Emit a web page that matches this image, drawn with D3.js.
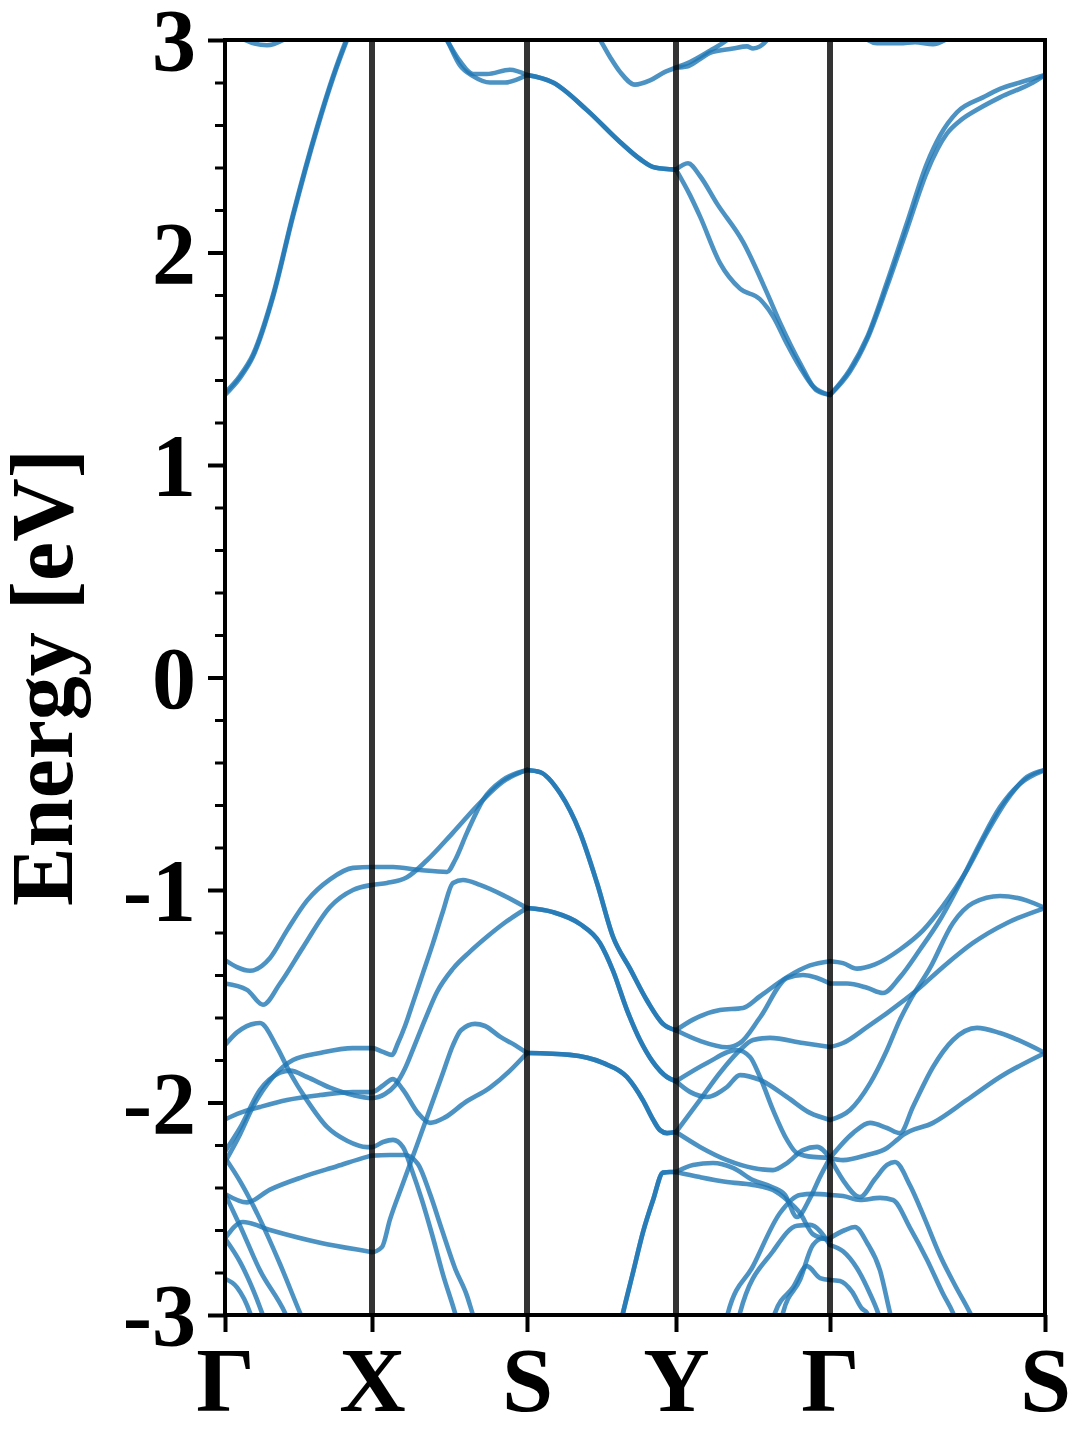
<!DOCTYPE html>
<html><head><meta charset="utf-8">
<script src="https://cdn.jsdelivr.net/npm/d3@7"></script>
<style>
html,body{margin:0;padding:0;background:#fff;}
svg text{font-family:"Liberation Serif","Times New Roman",Times,serif;font-weight:bold;fill:#000;}
</style></head>
<body><svg id="c" width="1080" height="1440"></svg>
<script>
// ---- axis data ----
const kPos = [0, 1.47, 3.02, 4.51, 6.05, 8.20];
const kLabels = ["Γ", "X", "S", "Y", "Γ", "S"];
const yTicks = [-3, -2, -1, 0, 1, 2, 3];
const yTickLabels = ["-3", "-2", "-1", "0", "1", "2", "3"];
const yMinor = [-2.8,-2.6,-2.4,-2.2,-1.8,-1.6,-1.4,-1.2,-0.8,-0.6,-0.4,-0.2,0.2,0.4,0.6,0.8,1.2,1.4,1.6,1.8,2.2,2.4,2.6,2.8];
const yLabel = "Energy [eV]";

// ---- bands: [k, E(eV)] ----
// conduction
const cb1a = [[0,1.33],[0.15,1.41],[0.28,1.51],[0.48,1.79],[0.68,2.17],[0.92,2.58],[1.08,2.82],[1.22,3.0],[1.35,3.15],[1.47,3.25]];
const cb1b = [[0,1.34],[0.15,1.42],[0.28,1.52],[0.48,1.80],[0.68,2.18],[0.92,2.59],[1.08,2.83],[1.22,3.01],[1.35,3.16],[1.47,3.26]];
const cTopGX = [[0.05,3.06],[0.20,3.0],[0.42,2.975],[0.58,3.0],[0.75,3.06]];
const c3a = [[2.05,3.15],[2.22,3.0],[2.35,2.88],[2.48,2.83],[2.65,2.80],[2.80,2.80],[3.02,2.835]];
const c3b = [[2.05,3.15],[2.22,3.0],[2.35,2.90],[2.48,2.84],[2.62,2.84],[2.85,2.86],[3.02,2.835]];
const c2 = [[3.02,2.835],[3.28,2.80],[3.62,2.67],[3.95,2.52],[4.15,2.44],[4.30,2.40],[4.51,2.39]];
const c4 = [[3.65,3.06],[3.75,3.0],[3.85,2.92],[3.95,2.85],[4.10,2.79],[4.25,2.81],[4.40,2.85],[4.51,2.87],[4.62,2.89],[4.85,2.95],[5.02,3.0],[5.15,3.06]];
const c5 = [[4.51,2.87],[4.62,2.875],[4.75,2.91],[4.85,2.94],[5.08,2.96],[5.22,2.97],[5.28,2.96],[5.35,2.97],[5.42,3.0],[5.50,3.06]];
const cA = [[4.51,2.39],[4.63,2.42],[4.75,2.36],[4.92,2.23],[5.18,2.05],[5.42,1.81],[5.55,1.67],[5.75,1.48],[5.92,1.35],[6.05,1.33]];
const cB = [[4.51,2.39],[4.65,2.27],[4.75,2.17],[4.95,1.95],[5.15,1.83],[5.35,1.78],[5.48,1.70],[5.62,1.57],[5.75,1.46],[5.88,1.37],[6.05,1.33]];
const cC = [[6.05,1.33],[6.25,1.45],[6.42,1.60],[6.62,1.86],[6.82,2.14],[7.02,2.42],[7.15,2.55],[7.32,2.66],[7.58,2.73],[7.75,2.77],[7.95,2.80],[8.20,2.835]];
const cD = [[6.05,1.33],[6.25,1.44],[6.42,1.59],[6.62,1.84],[6.82,2.11],[7.02,2.38],[7.22,2.56],[7.35,2.62],[7.55,2.68],[7.75,2.73],[8.08,2.80],[8.20,2.835]];
const cTopGS = [[6.35,3.03],[6.52,2.985],[6.75,2.985],[6.90,2.99],[7.08,2.98],[7.20,3.0],[7.32,3.04]];
// valence
const vb1 = [[0,-1.33],[0.25,-1.38],[0.45,-1.32],[0.62,-1.19],[0.82,-1.05],[1.05,-0.95],[1.28,-0.896],[1.47,-0.892],[1.68,-0.892],[1.95,-0.906],[2.22,-0.915],[2.30,-0.86],[2.42,-0.73],[2.58,-0.576],[2.78,-0.482],[3.02,-0.435]];
const vb2 = [[0,-1.44],[0.22,-1.47],[0.38,-1.54],[0.55,-1.44],[0.78,-1.27],[1.05,-1.08],[1.28,-1.00],[1.47,-0.976],[1.62,-0.967],[1.82,-0.94],[2.02,-0.86],[2.28,-0.73],[2.55,-0.59],[2.78,-0.49],[3.02,-0.435]];
const vA = [[0,-1.73],[0.12,-1.67],[0.35,-1.626],[0.52,-1.74],[0.65,-1.86],[0.82,-1.99],[1.02,-2.115],[1.22,-2.18],[1.42,-2.21],[1.47,-2.21],[1.58,-2.186],[1.68,-2.176],[1.78,-2.21],[1.87,-2.32],[1.97,-2.46],[2.07,-2.62],[2.18,-2.81],[2.30,-2.99],[2.42,-3.2]];
const vU = [[0,-2.43],[0.22,-2.47],[0.45,-2.41],[0.78,-2.35],[1.12,-2.30],[1.42,-2.256],[1.47,-2.25],[1.65,-2.247],[1.80,-2.247],[1.93,-2.29],[2.05,-2.43],[2.17,-2.60],[2.30,-2.78],[2.42,-2.91],[2.48,-3.0],[2.60,-3.15]];
const vB = [[0,-2.08],[0.15,-2.049],[0.35,-2.021],[0.62,-1.988],[0.95,-1.965],[1.28,-1.951],[1.47,-1.951],[1.58,-1.92],[1.68,-1.89],[1.78,-1.94],[1.93,-2.05],[2.05,-2.096],[2.20,-2.07],[2.40,-2.0],[2.65,-1.93],[2.85,-1.85],[3.02,-1.767]];
const vC = [[0,-2.23],[0.15,-2.12],[0.35,-1.94],[0.55,-1.86],[0.65,-1.85],[0.82,-1.88],[1.05,-1.93],[1.28,-1.965],[1.47,-1.979],[1.60,-1.96],[1.70,-1.92],[1.80,-1.84],[1.88,-1.75],[2.0,-1.61],[2.12,-1.48],[2.28,-1.37],[2.45,-1.29],[2.62,-1.22],[2.78,-1.16],[3.02,-1.085]];
const vD = [[0,-2.28],[0.15,-2.15],[0.28,-2.02],[0.48,-1.88],[0.68,-1.80],[0.95,-1.767],[1.28,-1.744],[1.47,-1.744],[1.58,-1.762],[1.67,-1.776],[1.73,-1.72],[1.80,-1.64],[1.88,-1.53],[1.98,-1.39],[2.08,-1.25],[2.18,-1.10],[2.28,-0.967],[2.38,-0.953],[2.55,-0.976],[2.78,-1.024],[3.02,-1.085]];
const vE = [[0,-2.64],[0.18,-2.562],[0.45,-2.60],[0.95,-2.66],[1.42,-2.70],[1.47,-2.704],[1.57,-2.68],[1.65,-2.55],[1.78,-2.38],[1.92,-2.20],[2.05,-2.03],[2.18,-1.86],[2.28,-1.73],[2.36,-1.66],[2.50,-1.63],[2.60,-1.64],[2.75,-1.69],[2.90,-1.73],[3.02,-1.767]];
const dn1 = [[0,-2.26],[0.15,-2.37],[0.35,-2.55],[0.55,-2.76],[0.75,-2.99],[0.85,-3.1]];
const dn2 = [[0,-2.43],[0.15,-2.58],[0.35,-2.79],[0.60,-2.99],[0.70,-3.1]];
const dn3 = [[0,-2.64],[0.15,-2.75],[0.37,-2.99],[0.45,-3.1]];
const dn4 = [[0,-2.83],[0.12,-2.87],[0.25,-2.99],[0.32,-3.1]];
const sy1 = [[3.02,-0.435],[3.15,-0.445],[3.35,-0.544],[3.55,-0.73],[3.72,-0.967],[3.88,-1.22],[4.05,-1.37],[4.22,-1.52],[4.38,-1.63],[4.51,-1.66]];
const sy2 = [[3.02,-1.085],[3.28,-1.104],[3.55,-1.16],[3.75,-1.25],[3.88,-1.38],[4.02,-1.565],[4.15,-1.706],[4.28,-1.81],[4.42,-1.88],[4.51,-1.90]];
const sy3 = [[3.02,-1.767],[3.45,-1.776],[3.78,-1.814],[4.02,-1.88],[4.18,-1.99],[4.28,-2.08],[4.35,-2.13],[4.42,-2.144],[4.51,-2.139]];
const sy4 = [[3.95,-3.05],[3.98,-2.99],[4.08,-2.80],[4.18,-2.61],[4.28,-2.46],[4.38,-2.33],[4.45,-2.327],[4.51,-2.327]];
const vy1 = [[4.51,-1.66],[4.68,-1.61],[4.95,-1.565],[5.18,-1.555],[5.35,-1.50],[5.62,-1.41],[5.85,-1.355],[6.05,-1.335]];
const vy2 = [[4.51,-1.66],[4.75,-1.71],[5.02,-1.74],[5.15,-1.72],[5.35,-1.60],[5.62,-1.414],[5.78,-1.40],[6.05,-1.44]];
const vy3 = [[4.51,-1.90],[4.82,-1.814],[5.12,-1.753],[5.25,-1.786],[5.35,-1.88],[5.48,-2.035],[5.62,-2.176],[5.72,-2.238],[5.88,-2.256],[6.05,-2.26]];
const vy4 = [[4.51,-1.90],[4.65,-1.95],[4.82,-1.974],[5.02,-1.927],[5.15,-1.871],[5.35,-1.894],[5.62,-1.974],[5.85,-2.049],[6.05,-2.082]];
const vy5 = [[4.51,-2.139],[4.75,-1.988],[4.95,-1.86],[5.15,-1.753],[5.28,-1.706],[5.45,-1.696],[5.78,-1.72],[6.05,-1.739]];
const vy6 = [[4.51,-2.139],[4.75,-2.209],[5.02,-2.271],[5.28,-2.308],[5.48,-2.318],[5.62,-2.285],[5.78,-2.224],[5.92,-2.209],[6.05,-2.261]];
const vy7a = [[4.51,-2.327],[4.68,-2.294],[4.88,-2.285],[5.08,-2.308],[5.28,-2.365],[5.48,-2.40],[5.60,-2.435],[5.72,-2.539],[5.85,-2.45],[5.95,-2.35],[6.05,-2.26]];
const vy7b = [[4.51,-2.327],[4.75,-2.351],[5.02,-2.374],[5.28,-2.388],[5.48,-2.412],[5.62,-2.459],[5.75,-2.52],[5.88,-2.62],[6.05,-2.647]];
const r1 = [[5.00,-3.05],[5.03,-2.99],[5.28,-2.77],[5.55,-2.52],[5.75,-2.435],[5.88,-2.43],[6.05,-2.435]];
const r2 = [[5.12,-3.05],[5.15,-2.99],[5.48,-2.70],[5.72,-2.58],[5.85,-2.576],[6.05,-2.67]];
const r3 = [[5.47,-3.05],[5.50,-2.99],[5.68,-2.87],[5.82,-2.77],[5.95,-2.826],[6.05,-2.835]];
const r4 = [[5.55,-3.05],[5.58,-2.99],[5.75,-2.835],[5.88,-2.67],[5.98,-2.64],[6.05,-2.647]];
const vg1 = [[6.05,-1.335],[6.18,-1.344],[6.32,-1.37],[6.50,-1.35],[6.75,-1.28],[6.98,-1.19],[7.18,-1.075],[7.42,-0.906],[7.62,-0.73],[7.82,-0.576],[8.02,-0.468],[8.20,-0.435]];
const vg2 = [[6.05,-1.44],[6.22,-1.44],[6.42,-1.46],[6.58,-1.485],[6.75,-1.41],[6.95,-1.28],[7.15,-1.14],[7.35,-0.967],[7.55,-0.78],[7.75,-0.61],[7.95,-0.50],[8.20,-0.435]];
const gs1 = [[6.05,-1.739],[6.18,-1.72],[6.42,-1.645],[6.62,-1.579],[6.92,-1.471],[7.18,-1.362],[7.48,-1.249],[7.82,-1.155],[8.20,-1.085]];
const gs2 = [[6.05,-2.082],[6.25,-2.035],[6.45,-1.91],[6.62,-1.753],[6.75,-1.61],[6.85,-1.52],[7.05,-1.367],[7.28,-1.155],[7.48,-1.061],[7.75,-1.028],[8.02,-1.05],[8.20,-1.085]];
const gs3 = [[6.05,-2.261],[6.18,-2.271],[6.42,-2.247],[6.62,-2.214],[6.72,-2.176],[6.78,-2.153],[7.08,-2.096],[7.42,-1.988],[7.75,-1.88],[8.20,-1.767]];
const gs4 = [[6.05,-2.261],[6.28,-2.144],[6.45,-2.096],[6.62,-2.12],[6.75,-2.144],[6.88,-2.02],[7.08,-1.833],[7.28,-1.706],[7.52,-1.649],[7.75,-1.673],[8.20,-1.767]];
const gs5 = [[6.05,-2.261],[6.18,-2.365],[6.35,-2.445],[6.50,-2.36],[6.62,-2.294],[6.70,-2.28],[6.85,-2.39],[7.0,-2.55],[7.15,-2.72],[7.30,-2.86],[7.45,-2.99],[7.60,-3.15]];
const gs6 = [[6.05,-2.435],[6.18,-2.44],[6.35,-2.459],[6.55,-2.449],[6.68,-2.459],[6.85,-2.59],[7.02,-2.74],[7.18,-2.90],[7.28,-2.99],[7.40,-3.15]];
const gs7 = [[6.05,-2.638],[6.20,-2.60],[6.30,-2.586],[6.42,-2.66],[6.55,-2.79],[6.65,-2.99],[6.72,-3.12]];
const gs8 = [[6.05,-2.671],[6.18,-2.70],[6.32,-2.78],[6.45,-2.90],[6.53,-2.99],[6.60,-3.1]];
const gs9 = [[6.05,-2.835],[6.15,-2.84],[6.27,-2.89],[6.37,-2.97],[6.42,-2.99],[6.50,-3.1]];

const bands = [cb1a, cb1b, cTopGX, c3a, c3b, c2, c2, c4, c5, cA, cB, cC, cD, cTopGS,
  vb1, vb2, vA, vU, vB, vC, vD, vE, dn1, dn2, dn3, dn4,
  sy1, sy1, sy2, sy2, sy3, sy3, sy4, sy4,
  vy1, vy2, vy3, vy4, vy5, vy6, vy7a, vy7b, r1, r2, r3, r4,
  vg1, vg2, gs1, gs2, gs3, gs4, gs5, gs6, gs7, gs8, gs9];

// ---- drawing ----
const m = {left: 225, right: 1045, top: 40, bottom: 1315};
const svg = d3.select("#c");
const x = d3.scaleLinear().domain([kPos[0], kPos[kPos.length - 1]]).range([m.left, m.right]);
const y = d3.scaleLinear().domain([-3, 3]).range([m.bottom, m.top]);

svg.append("defs").append("clipPath").attr("id", "clip")
  .append("rect").attr("x", m.left).attr("y", m.top)
  .attr("width", m.right - m.left).attr("height", m.bottom - m.top);

const line = d3.line().x(d => x(d[0])).y(d => y(d[1])).curve(d3.curveMonotoneX);

svg.append("g").attr("clip-path", "url(#clip)")
  .selectAll("path").data(bands).join("path")
  .attr("d", line)
  .attr("fill", "none")
  .attr("stroke", "#1f77b4")
  .attr("stroke-opacity", 0.8)
  .attr("stroke-width", 4.6)
  .attr("stroke-linejoin", "round")
  .attr("stroke-linecap", "round");

// high-symmetry vertical lines
svg.append("g").selectAll("line").data(kPos.slice(1, -1)).join("line")
  .attr("x1", d => x(d)).attr("x2", d => x(d))
  .attr("y1", m.top).attr("y2", m.bottom)
  .attr("stroke", "#000").attr("stroke-opacity", 0.8).attr("stroke-width", 6);

// frame
svg.append("rect").attr("x", m.left).attr("y", m.top)
  .attr("width", m.right - m.left).attr("height", m.bottom - m.top)
  .attr("fill", "none").attr("stroke", "#000").attr("stroke-width", 4);

// y axis
const yAxis = d3.axisLeft(y).tickValues(yTicks)
  .tickFormat((d, i) => yTickLabels[i]).tickSize(17).tickPadding(12);
const gy = svg.append("g").attr("transform", `translate(${m.left},0)`).call(yAxis);
gy.select(".domain").remove();
gy.selectAll(".tick line").attr("stroke", "#000").attr("stroke-width", 4);
gy.selectAll(".tick text").attr("font-size", 88).attr("font-family", null)
  .attr("dy", "0.34em");

const yAxisMinor = d3.axisLeft(y).tickValues(yMinor).tickFormat("").tickSize(10);
const gym = svg.append("g").attr("transform", `translate(${m.left},0)`).call(yAxisMinor);
gym.select(".domain").remove();
gym.selectAll(".tick line").attr("stroke", "#000").attr("stroke-width", 3);

// x axis
const xAxis = d3.axisBottom(x).tickValues(kPos)
  .tickFormat((d, i) => kLabels[i]).tickSize(17).tickPadding(14);
const gx = svg.append("g").attr("transform", `translate(0,${m.bottom})`).call(xAxis);
gx.select(".domain").remove();
gx.selectAll(".tick line").attr("stroke", "#000").attr("stroke-width", 4);
gx.selectAll(".tick text").attr("font-size", 92).attr("font-family", null)
  .attr("dy", "0.71em");

// y label
svg.append("text")
  .attr("transform", `translate(72,${(m.top + m.bottom) / 2}) rotate(-90)`)
  .attr("text-anchor", "middle")
  .attr("font-size", 88)
  .text(yLabel);
</script></body></html>
